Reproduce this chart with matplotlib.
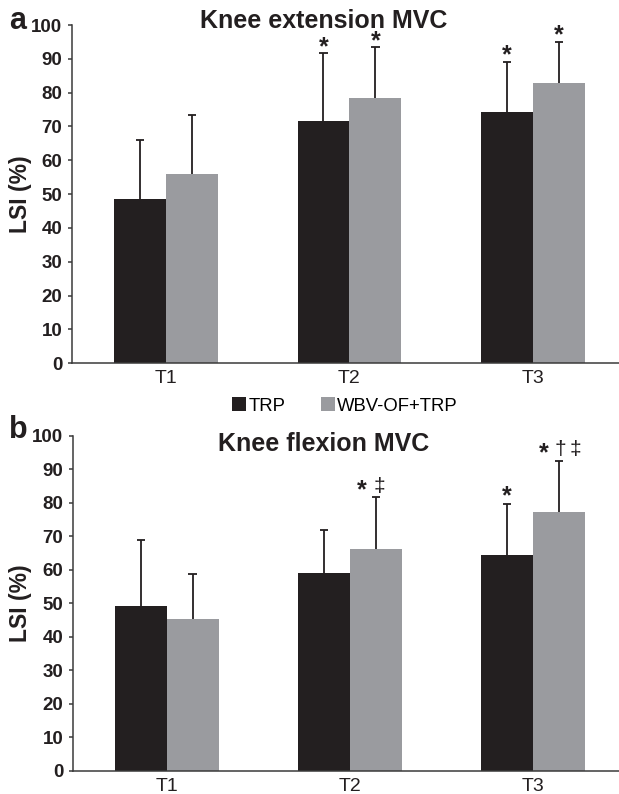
import matplotlib
matplotlib.use("Agg")
import matplotlib.pyplot as plt
import numpy as np

plt.rcParams['font.family'] = ['Liberation Sans', 'DejaVu Sans']

categories = ["T1", "T2", "T3"]
series_names = ["TRP", "WBV-OF+TRP"]

ext_trp = [48.5, 71.6, 74.2]
ext_trp_top = [66.0, 91.6, 89.2]
ext_wbv = [56.0, 78.3, 82.9]
ext_wbv_top = [73.3, 93.4, 94.9]

flx_trp = [49.2, 58.9, 64.3]
flx_trp_top = [69.0, 71.8, 79.6]
flx_wbv = [45.3, 66.3, 77.1]
flx_wbv_top = [58.7, 81.6, 92.5]

ext_marks_trp = ["", "*", "*"]
ext_marks_wbv = ["", "*", "*"]
flx_marks_trp = ["", "", "*"]
flx_marks_wbv = ["", "*‡", "*†‡"]

yticks = list(range(0, 101, 10))

C_BLACK = "#231f20"
C_GRAY = "#9a9b9f"

W, H = 619, 794
fig = plt.figure(figsize=(W / 100, H / 100), dpi=100)

def px_ax(left, right, top, bottom):
    return [left / W, 1 - bottom / H, (right - left) / W, (bottom - top) / H]

bw = 0.283
cap = 0.023

def draw_marks(ax, x, top, marks, dy):
    if not marks:
        return
    if marks == "*":
        offs = [0]
    elif marks == "*‡":
        offs = [-14, 4]
    else:
        offs = [-15, 1, 16]
    for ch, dx in zip(marks, offs):
        if ch == "*":
            ax.annotate("*", (x, top), xytext=(dx, dy), textcoords="offset pixels",
                        ha="center", va="center_baseline", fontsize=18, fontweight="bold",
                        color=C_BLACK, annotation_clip=False)
        else:
            ax.annotate(ch, (x, top), xytext=(dx, dy + 1), textcoords="offset pixels",
                        ha="center", va="center", fontsize=15,
                        color=C_BLACK, annotation_clip=False)

def panel(rect, trp, trp_top, wbv, wbv_top, mk_trp, mk_wbv, title, letter,
          title_y, letter_y, dy):
    ax = fig.add_axes(rect)
    x = np.arange(len(categories))
    ax.bar(x - bw / 2, trp, bw, color=C_BLACK, zorder=2, label=series_names[0])
    ax.bar(x + bw / 2, wbv, bw, color=C_GRAY, zorder=2, label=series_names[1])
    for xs, vals, tops in ((x - bw / 2, trp, trp_top), (x + bw / 2, wbv, wbv_top)):
        ax.vlines(xs, vals, tops, colors=C_BLACK, linewidth=1.3, zorder=3)
        ax.hlines(tops, xs - cap, xs + cap, colors=C_BLACK, linewidth=1.3, zorder=3)
    for xi, t, m in zip(x - bw / 2, trp_top, mk_trp):
        draw_marks(ax, xi, t, m, dy)
    for xi, t, m in zip(x + bw / 2, wbv_top, mk_wbv):
        draw_marks(ax, xi, t, m, dy)
    ax.set_xlim(-0.512, 2.469)
    ax.set_ylim(0, 100)
    ax.set_yticks(yticks)
    ax.set_xticks(x)
    ax.set_xticklabels(categories)
    for s in ["top", "right"]:
        ax.spines[s].set_visible(False)
    for s in ["left", "bottom"]:
        ax.spines[s].set_color("#3a3a3a")
        ax.spines[s].set_linewidth(1.1)
    ax.tick_params(axis="y", length=3, width=1.1, color="#3a3a3a", pad=4,
                   labelsize=13.5, labelcolor=C_BLACK)
    for lab in ax.get_yticklabels():
        lab.set_fontweight("bold")
    ax.tick_params(axis="x", length=0, pad=5, labelsize=14, labelcolor=C_BLACK)
    ax.patch.set_alpha(0)
    fig.text(324 / W, 1 - title_y / H, title, ha="center", va="baseline",
             fontsize=18, fontweight="bold", color=C_BLACK)
    fig.text(9 / W, 1 - letter_y / H, letter, ha="left", va="baseline",
             fontsize=22, fontweight="bold", color=C_BLACK)
    yc = (rect[1] + rect[3] / 2)
    fig.text(21 / W, yc, "LSI (%)", rotation=90, ha="center", va="center",
             fontsize=16.5, fontweight="bold", color=C_BLACK)
    return ax

axa = panel(px_ax(72, 619, 25, 363.3), ext_trp, ext_trp_top, ext_wbv, ext_wbv_top,
            ext_marks_trp, ext_marks_wbv, "Knee extension MVC", "a", 27.5, 29, 9)
axb = panel(px_ax(73, 619, 435.7, 770.7), flx_trp, flx_trp_top, flx_wbv, flx_wbv_top,
            flx_marks_trp, flx_marks_wbv, "Knee flexion MVC", "b", 451, 438, 10)

handles, labels = axa.get_legend_handles_labels()
fig.legend(handles, labels, loc="center", bbox_to_anchor=(345 / W, 1 - 406 / H),
           ncol=2, frameon=False, fontsize=13.3, handlelength=0.75, handleheight=0.75,
           handletextpad=0.15, columnspacing=1.9, borderaxespad=0, borderpad=0)

fig.savefig("out.png", dpi=100)
